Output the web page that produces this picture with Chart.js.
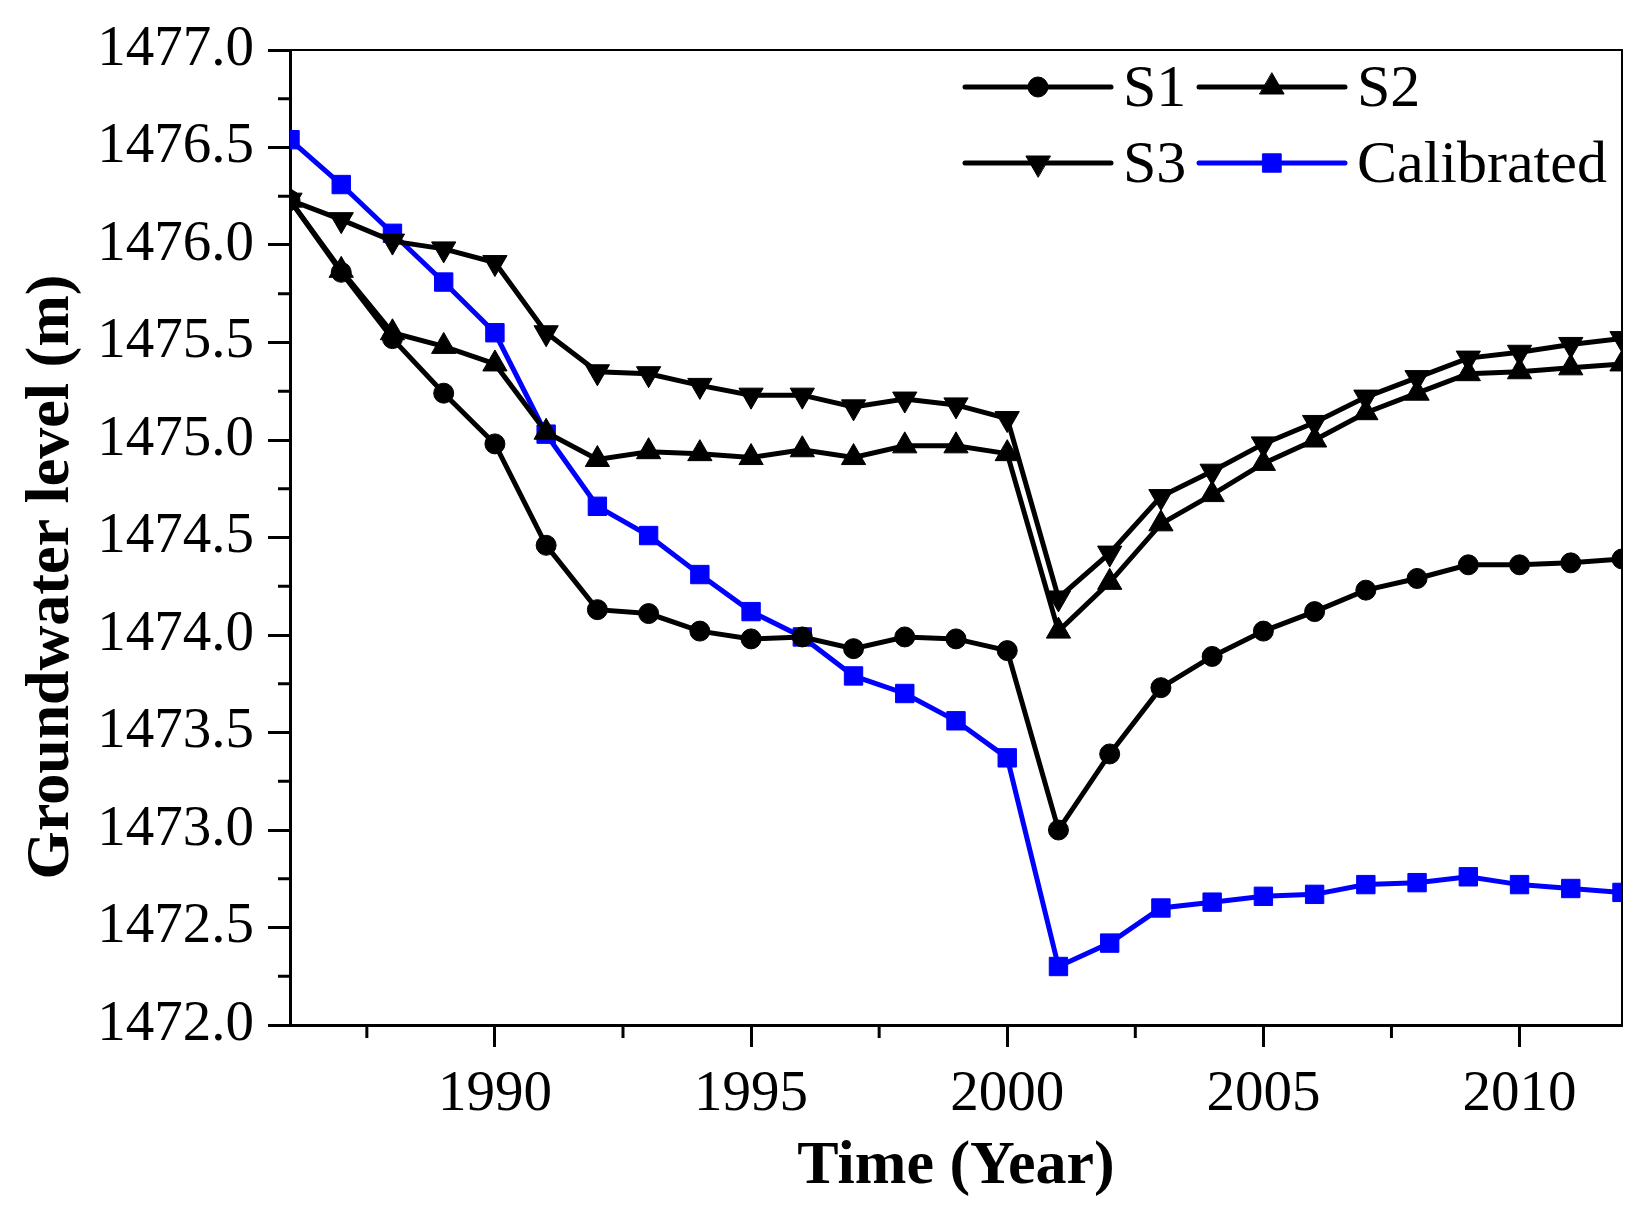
<!DOCTYPE html>
<html>
<head>
<meta charset="utf-8">
<script src="https://cdn.jsdelivr.net/npm/chart.js@4.4.1/dist/chart.umd.min.js"></script>
<style>
  html, body { margin: 0; padding: 0; background: #fff; }
  #wrap { width: 1650px; height: 1214px; position: relative; }
</style>
</head>
<body>
<div id="wrap"><canvas id="gwChart"></canvas></div>
<script>
// Values
const years = [1986, 1987, 1988, 1989, 1990, 1991, 1992, 1993, 1994, 1995, 1996, 1997, 1998, 1999,
               2000, 2001, 2002, 2003, 2004, 2005, 2006, 2007, 2008, 2009, 2010, 2011, 2012];

const s1 = [1476.23, 1475.86, 1475.52, 1475.24, 1474.98, 1474.46, 1474.13, 1474.11, 1474.02, 1473.98,
            1473.99, 1473.93, 1473.99, 1473.98, 1473.92, 1473.00, 1473.39, 1473.73, 1473.89, 1474.02,
            1474.12, 1474.23, 1474.29, 1474.36, 1474.36, 1474.37, 1474.39];

const s2 = [1476.23, 1475.87, 1475.55, 1475.48, 1475.39, 1475.04, 1474.90, 1474.94, 1474.93, 1474.91,
            1474.95, 1474.91, 1474.97, 1474.97, 1474.93, 1474.02, 1474.27, 1474.57, 1474.72, 1474.88,
            1475.00, 1475.14, 1475.24, 1475.34, 1475.35, 1475.37, 1475.39];

const s3 = [1476.23, 1476.13, 1476.02, 1475.98, 1475.91, 1475.55, 1475.35, 1475.34, 1475.28, 1475.23,
            1475.23, 1475.17, 1475.21, 1475.18, 1475.11, 1474.19, 1474.42, 1474.71, 1474.84, 1474.98,
            1475.09, 1475.22, 1475.32, 1475.42, 1475.45, 1475.49, 1475.52];

const calibrated = [1476.54, 1476.31, 1476.06, 1475.81, 1475.55, 1475.03, 1474.66, 1474.51, 1474.31, 1474.12,
                    1473.99, 1473.79, 1473.70, 1473.56, 1473.37, 1472.30, 1472.42, 1472.60, 1472.63, 1472.66,
                    1472.67, 1472.72, 1472.73, 1472.76, 1472.72, 1472.70, 1472.68];

const xMajorTicks = [1990, 1995, 2000, 2005, 2010];
const xMinorTicks = [1987.5, 1992.5, 1997.5, 2002.5, 2007.5];
const yMajorTicks = [1472.0, 1472.5, 1473.0, 1473.5, 1474.0, 1474.5, 1475.0, 1475.5, 1476.0, 1476.5, 1477.0];
const yMinorTicks = [1472.25, 1472.75, 1473.25, 1473.75, 1474.25, 1474.75, 1475.25, 1475.75, 1476.25, 1476.75];

const SERIF = "'Liberation Serif', 'Times New Roman', serif";

function toPoints(values) {
    return years.map((yr, i) => ({ x: yr, y: values[i] }));
}

function series(label, values, color, style, rotation, radius) {
    return {
        label: label,
        data: toPoints(values),
        borderColor: color,
        backgroundColor: color,
        borderWidth: 5,
        pointStyle: style,
        pointRotation: rotation,
        pointRadius: radius,
        pointBorderWidth: 1,
        pointHoverRadius: radius,
        tension: 0
    };
}

// frame, minor ticks, axis titles and the two-column legend
const decorPlugin = {
    id: 'decor',
    afterDraw(chart) {
        const ctx = chart.ctx;
        const a = chart.chartArea;
        const xs = chart.scales.x;
        const ys = chart.scales.y;
        ctx.save();

        ctx.strokeStyle = '#000';
        ctx.lineWidth = 2;
        ctx.beginPath();
        ctx.moveTo(a.left, a.top);
        ctx.lineTo(a.right, a.top);
        ctx.lineTo(a.right, a.bottom);
        ctx.stroke();

        ctx.lineWidth = 3;
        xMinorTicks.forEach(v => {
            const px = xs.getPixelForValue(v);
            ctx.beginPath();
            ctx.moveTo(px, a.bottom);
            ctx.lineTo(px, a.bottom + 13);
            ctx.stroke();
        });
        yMinorTicks.forEach(v => {
            const py = ys.getPixelForValue(v);
            ctx.beginPath();
            ctx.moveTo(a.left, py);
            ctx.lineTo(a.left - 12, py);
            ctx.stroke();
        });

        // axis titles
        ctx.fillStyle = '#000';
        ctx.font = 'bold 62px ' + SERIF;
        ctx.textAlign = 'center';
        ctx.textBaseline = 'alphabetic';
        ctx.fillText('Time (Year)', (a.left + a.right) / 2, 1183);

        ctx.save();
        ctx.translate(68, 577);
        ctx.rotate(-Math.PI / 2);
        ctx.fillText('Groundwater level (m)', 0, 0);
        ctx.restore();

        // legend
        const cols = [965, 1199];
        const rows = [87, 163];
        const lineLen = 146;
        ctx.font = '60px ' + SERIF;
        ctx.textAlign = 'left';
        ctx.textBaseline = 'middle';
        chart.data.datasets.forEach((ds, i) => {
            const cx = cols[i % 2];
            const cy = rows[Math.floor(i / 2)];
            ctx.strokeStyle = ds.borderColor;
            ctx.lineWidth = ds.borderWidth;
            ctx.lineCap = 'round';
            ctx.beginPath();
            ctx.moveTo(cx, cy);
            ctx.lineTo(cx + lineLen, cy);
            ctx.stroke();
            ctx.fillStyle = ds.backgroundColor;
            ctx.lineWidth = 1;
            Chart.helpers.drawPoint(ctx, {
                pointStyle: ds.pointStyle,
                rotation: ds.pointRotation,
                radius: ds.pointRadius,
                borderWidth: 1
            }, cx + lineLen / 2, cy);
            ctx.fillStyle = '#000';
            ctx.fillText(ds.label, cx + lineLen + 12, cy + 3);
        });

        ctx.restore();
    }
};

new Chart(document.getElementById('gwChart'), {
    type: 'line',
    data: {
        datasets: [
            series('S1', s1, '#000000', 'circle', 0, 10),
            series('S2', s2, '#000000', 'triangle', 0, 14),
            series('S3', s3, '#000000', 'triangle', 180, 14),
            series('Calibrated', calibrated, '#0000ff', 'rect', 0, 13)
        ]
    },
    options: {
        responsive: true,
        maintainAspectRatio: false,
        devicePixelRatio: 1,
        animation: false,
        layout: { padding: { top: 50, right: 28, left: 0, bottom: 0 } },
        plugins: {
            legend: { display: false },
            tooltip: { enabled: false }
        },
        scales: {
            x: {
                type: 'linear',
                min: 1986,
                max: 2012,
                afterBuildTicks: s => { s.ticks = xMajorTicks.map(v => ({ value: v })); },
                afterFit: s => { s.height = 189; },
                grid: {
                    drawOnChartArea: false,
                    drawTicks: true,
                    tickLength: 22,
                    tickWidth: 3,
                    tickColor: '#000'
                },
                border: { display: true, color: '#000', width: 3 },
                ticks: {
                    color: '#000',
                    padding: 14,
                    maxRotation: 0,
                    font: { family: SERIF, size: 57 },
                    callback: v => String(v)
                }
            },
            y: {
                type: 'linear',
                min: 1472,
                max: 1477,
                afterBuildTicks: s => { s.ticks = yMajorTicks.map(v => ({ value: v })); },
                afterFit: s => { s.width = 290; },
                grid: {
                    drawOnChartArea: false,
                    drawTicks: true,
                    tickLength: 22,
                    tickWidth: 3,
                    tickColor: '#000'
                },
                border: { display: true, color: '#000', width: 3 },
                ticks: {
                    color: '#000',
                    padding: 14,
                    font: { family: SERIF, size: 57 },
                    callback: v => Number(v).toFixed(1)
                }
            }
        }
    },
    plugins: [decorPlugin]
});
</script>
</body>
</html>
